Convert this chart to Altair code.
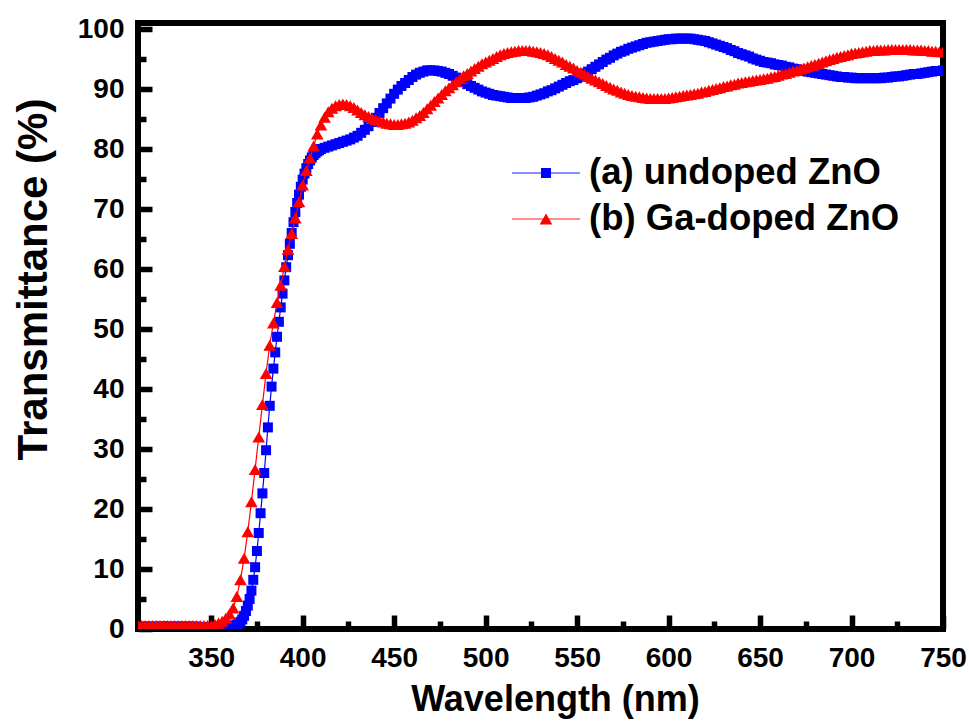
import altair as alt
import pandas as pd

# ---------------- data ----------------
# (a) undoped ZnO : 2 nm steps, 1 nm steps across the absorption edge
wl_a = list(range(310, 361, 2)) + list(range(361, 411)) + list(range(412, 751, 2))
t_a = (
    [0.4] * 17 + [0.3] * 9
    + [0.4, 0.5, 0.6, 0.7, 0.9, 1.2, 1.6, 2.2, 3.0, 3.9,
       5.0, 6.4, 8.2, 10.3, 13.0, 16.0, 19.3, 22.6, 26.0, 29.8,
       33.6, 37.2, 40.4, 43.4, 46.1, 48.7, 51.2, 53.6, 55.9, 58.1,
       60.3, 62.3, 64.2, 66.0, 67.8, 69.5, 71.0, 72.4, 73.7, 74.9,
       75.9, 76.8, 77.5, 78.1, 78.6, 79.0, 79.3, 79.6, 79.8, 80.0]
    + [80.2, 80.4, 80.6, 80.8, 81.0,
       81.2, 81.4, 81.6, 81.9, 82.2,
       82.7, 83.2, 83.8, 84.5, 85.2,
       86.0, 86.8, 87.6, 88.4, 89.2,
       89.9, 90.5, 91.0, 91.5, 92.0,
       92.4, 92.7, 92.9, 93.1, 93.1,
       93.1, 93.0, 92.9, 92.7, 92.5,
       92.2, 91.9, 91.5, 91.2, 90.8,
       90.5, 90.2, 89.9, 89.6, 89.4,
       89.2, 89.0, 88.9, 88.8, 88.7,
       88.6, 88.5, 88.5, 88.5, 88.5,
       88.5, 88.6, 88.7, 88.9, 89.1,
       89.3, 89.6, 89.8, 90.1, 90.4,
       90.7, 91.0, 91.3, 91.5, 91.8,
       92.2, 92.6, 92.9, 93.3, 93.7,
       94.1, 94.5, 94.9, 95.2, 95.6,
       95.9, 96.2, 96.4, 96.7, 96.9,
       97.1, 97.3, 97.5, 97.7, 97.8,
       97.9, 98.0, 98.1, 98.2, 98.3,
       98.3, 98.4, 98.4, 98.4, 98.4,
       98.4, 98.3, 98.2, 98.1, 98.0,
       97.8, 97.6, 97.4, 97.2, 97.0,
       96.8, 96.5, 96.3, 96.0, 95.8,
       95.6, 95.4, 95.1, 94.9, 94.7,
       94.5, 94.4, 94.3, 94.1, 94.0,
       93.9, 93.7, 93.6, 93.4, 93.3,
       93.2, 93.0, 92.9, 92.8, 92.7,
       92.6, 92.5, 92.4, 92.3, 92.2,
       92.1, 92.0, 92.0, 91.9, 91.9,
       91.8, 91.8, 91.8, 91.8, 91.8,
       91.8, 91.8, 91.8, 91.9, 91.9,
       92.0, 92.1, 92.1, 92.2, 92.3,
       92.4, 92.5, 92.5, 92.6, 92.7,
       92.8, 92.9, 93.0, 93.0, 93.1]
)

# (b) Ga-doped ZnO : 2 nm steps
wl_b = list(range(310, 751, 2))
t_b = (
    [0.6] * 21
    + [0.8, 1.0, 1.3, 1.8, 2.5, 3.5, 5.4, 8.2, 11.8, 16.2,
       21.2, 26.6, 32.0, 37.4, 42.6, 47.3, 51.0, 54.4, 57.3, 60.4,
       63.3, 65.9, 68.5, 71.2, 74.0, 76.4, 78.5, 80.5, 82.5, 84.0]
    + [85.3, 86.2, 86.8, 87.2, 87.4,
       87.5, 87.4, 87.2, 86.9, 86.5,
       86.1, 85.7, 85.4, 85.1, 84.9,
       84.7, 84.5, 84.3, 84.2, 84.1,
       84.1, 84.2, 84.3, 84.5, 84.8,
       85.2, 85.6, 86.1, 86.7, 87.3,
       87.9, 88.5, 89.1, 89.7, 90.2,
       90.7, 91.2, 91.7, 92.2, 92.6,
       93.0, 93.4, 93.8, 94.2, 94.5,
       94.8, 95.1, 95.4, 95.7, 95.9,
       96.1, 96.2, 96.3, 96.4, 96.4,
       96.4, 96.4, 96.3, 96.2, 96.1,
       95.9, 95.7, 95.4, 95.1, 94.8,
       94.5, 94.1, 93.8, 93.5, 93.1,
       92.8, 92.5, 92.1, 91.8, 91.5,
       91.2, 90.9, 90.6, 90.3, 90.0,
       89.8, 89.5, 89.3, 89.1, 88.9,
       88.8, 88.7, 88.6, 88.5, 88.4,
       88.4, 88.4, 88.4, 88.4, 88.5,
       88.6, 88.7, 88.8, 88.9, 89.0,
       89.1, 89.2, 89.3, 89.5, 89.6,
       89.8, 89.9, 90.1, 90.2, 90.4,
       90.5, 90.7, 90.8, 91.0, 91.1,
       91.2, 91.3, 91.4, 91.5, 91.6,
       91.7, 91.8, 92.0, 92.1, 92.3,
       92.5, 92.6, 92.8, 93.0, 93.1,
       93.3, 93.5, 93.7, 93.9, 94.1,
       94.3, 94.5, 94.7, 94.9, 95.1,
       95.3, 95.4, 95.6, 95.7, 95.9,
       96.0, 96.1, 96.2, 96.3, 96.4,
       96.4, 96.5, 96.5, 96.5, 96.6,
       96.6, 96.6, 96.6, 96.6, 96.6,
       96.6, 96.5, 96.5, 96.5, 96.4,
       96.4, 96.3, 96.3, 96.2, 96.2]
)

assert len(wl_a) == len(t_a), (len(wl_a), len(t_a))
assert len(wl_b) == len(t_b), (len(wl_b), len(t_b))

x_major = [350, 400, 450, 500, 550, 600, 650, 700, 750]
x_minor = [325, 375, 425, 475, 525, 575, 625, 675, 725]
y_major = [0, 10, 20, 30, 40, 50, 60, 70, 80, 90, 100]
y_minor = [5, 15, 25, 35, 45, 55, 65, 75, 85, 95]
legend_labels = ["(a) undoped ZnO", "(b) Ga-doped ZnO"]

# ---------------- styling ----------------
FONT = "Liberation Sans"
BLUE = "#0000ff"
RED = "#ff0000"
W, H = 805, 606
SQ, TRI = 100, 160

df_a = pd.DataFrame({"wl": wl_a, "t": t_a})
df_b = pd.DataFrame({"wl": wl_b, "t": t_b})

xs = alt.Scale(domain=[310, 750], nice=False, zero=False)
ys = alt.Scale(domain=[0, 101], nice=False, zero=False)

lab = dict(labelFont=FONT, labelFontSize=28, labelFontWeight="bold", labelColor="black")

ax_x_major = alt.Axis(values=x_major, orient="bottom", tickSize=14, tickWidth=5.5,
                      tickColor="black", offset=-14, domain=False, grid=False,
                      labelPadding=15, labelFlush=False, labelOverlap=False,
                      title="Wavelength (nm)", titlePadding=10, titleX=417,
                      titleFont=FONT, titleFontSize=36, titleFontWeight="bold",
                      titleColor="black", **lab)
ax_x_minor = alt.Axis(values=x_minor, orient="bottom", tickSize=8, tickWidth=5.5,
                      tickColor="black", offset=-8, domain=False, grid=False,
                      labels=False, title="")
ax_y_major = alt.Axis(values=y_major, orient="left", tickSize=14, tickWidth=5.5,
                      tickColor="black", offset=-14, domain=False, grid=False,
                      labelPadding=14, labelFlush=False, labelOverlap=False,
                      title="Transmittance (%)", titlePadding=22, titleY=256,
                      titleFont=FONT, titleFontSize=42, titleFontWeight="bold",
                      titleColor="black", **lab)
ax_y_minor = alt.Axis(values=y_minor, orient="left", tickSize=8, tickWidth=5.5,
                      tickColor="black", offset=-8, domain=False, grid=False,
                      labels=False, title="")

blue_line = alt.Chart(df_a).mark_line(color=BLUE, strokeWidth=1.2, clip=True).encode(
    x=alt.X("wl:Q", scale=xs, axis=ax_x_major),
    y=alt.Y("t:Q", scale=ys, axis=ax_y_major),
)
blue_pts = alt.Chart(df_a).mark_point(shape="square", filled=True, size=SQ, color=BLUE,
                                      opacity=1, clip=True).encode(
    x=alt.X("wl:Q", scale=xs, axis=ax_x_minor),
    y=alt.Y("t:Q", scale=ys, axis=ax_y_minor),
)
red_line = alt.Chart(df_b).mark_line(color=RED, strokeWidth=1.2, clip=True).encode(
    x=alt.X("wl:Q", scale=xs, axis=None),
    y=alt.Y("t:Q", scale=ys, axis=None),
)
red_pts = alt.Chart(df_b).mark_point(shape="triangle-up", filled=True, size=TRI, color=RED,
                                     opacity=1, clip=True).encode(
    x=alt.X("wl:Q", scale=xs, axis=None),
    y=alt.Y("t:Q", scale=ys, axis=None),
)

# ---------------- legend (inside the plot) ----------------
leg = []
for i, (label, col, shape, sz) in enumerate(zip(legend_labels, [BLUE, RED],
                                               ["square", "triangle-up"], [SQ, TRI])):
    d = pd.DataFrame({"label": [label]})
    yy = 150 + i * 46
    leg.append(alt.Chart(d).mark_rule(color=col, strokeWidth=1.5, opacity=0.6).encode(
        x=alt.value(374), x2=alt.value(442), y=alt.value(yy)))
    leg.append(alt.Chart(d).mark_point(shape=shape, filled=True, size=sz, color=col,
                                       opacity=1).encode(x=alt.value(408), y=alt.value(yy)))
    leg.append(alt.Chart(d).mark_text(font=FONT, fontSize=36.5, fontWeight="bold",
                                      color="black", align="left", baseline="middle").encode(
        x=alt.value(451), y=alt.value(yy), text="label:N"))

chart = alt.layer(blue_line, blue_pts, red_line, red_pts, *leg).resolve_axis(
    x="independent", y="independent"
).properties(
    width=W, height=H,
    padding={"left": 138, "top": 23, "right": 26, "bottom": 94},
    autosize=alt.AutoSizeParams(type="none"),
    background="white",
).configure_view(stroke="black", strokeWidth=6)

chart.save("out.html", embed_options={"renderer": "svg", "actions": False})
